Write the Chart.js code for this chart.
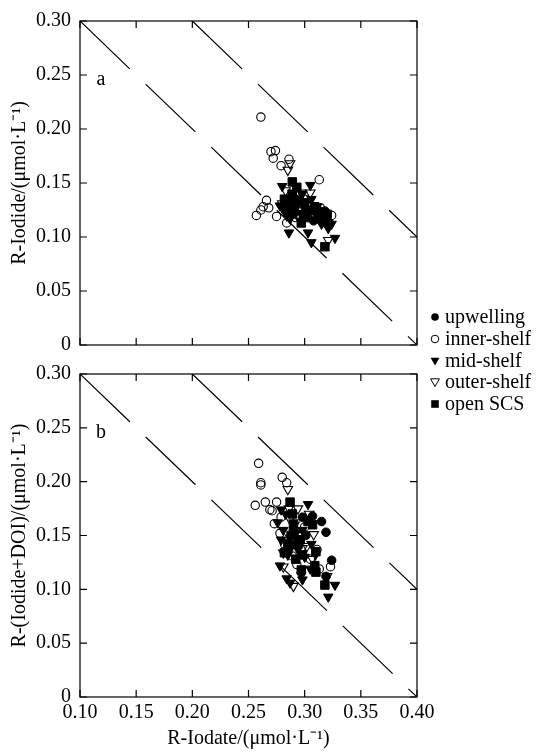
<!DOCTYPE html>
<html>
<head>
<meta charset="utf-8">
<script src="https://cdn.jsdelivr.net/npm/chart.js@4.4.0/dist/chart.umd.min.js"></script>
<style>
  body { margin: 0; background: #fff; }
  #wrap { position: relative; width: 538px; height: 755px; }
  canvas { position: absolute; left: 0; }
</style>
</head>
<body>
<div id="wrap">
  <canvas id="chartA" width="538" height="420" style="top:0px"></canvas>
  <canvas id="chartB" width="538" height="402" style="top:353px"></canvas>
</div>
<script>
// series names (legend order)
const seriesNames = ["upwelling", "inner-shelf", "mid-shelf", "outer-shelf", "open SCS"];

// axis ticks
const xTicks = [0.10, 0.40, 0.05];   // min, max, step
const yTicks = [0, 0.30, 0.05];

// dashed reference lines (x + y = 0.40 and x + y = 0.50)
const guideLow = [[0.10, 0.30], [0.40, 0.00]];
const guideHigh = [[0.20, 0.30], [0.40, 0.10]];

// panel a: R-Iodide vs R-Iodate
const upA = [[0.318,0.124],[0.322,0.113],[0.312,0.121],[0.300,0.128],[0.308,0.115],[0.290,0.131]];
const innerA = [[0.261,0.211],[0.270,0.179],[0.274,0.180],[0.272,0.173],[0.279,0.166],[0.286,0.172],
  [0.313,0.153],[0.257,0.120],[0.261,0.125],[0.263,0.128],[0.268,0.127],[0.266,0.134],[0.275,0.119],
  [0.284,0.113],[0.324,0.120],[0.314,0.127],[0.282,0.126],[0.292,0.118],[0.300,0.135],[0.309,0.121],[0.296,0.126]];
const midA = [[0.280,0.147],[0.305,0.148],[0.286,0.104],[0.303,0.104],[0.306,0.095],[0.327,0.099],
  [0.321,0.108],[0.324,0.112],[0.306,0.135],[0.278,0.129],[0.292,0.122],[0.313,0.118],[0.285,0.134],
  [0.296,0.115],[0.289,0.141],[0.300,0.122],[0.318,0.115],[0.282,0.124],[0.311,0.128],[0.294,0.131],
  [0.298,0.140],[0.287,0.117],[0.315,0.112],[0.302,0.133]];
const outerA = [[0.287,0.168],[0.285,0.162],[0.297,0.141],[0.305,0.141],[0.321,0.097],[0.300,0.129],
  [0.290,0.136],[0.284,0.120],[0.295,0.125],[0.280,0.131],[0.308,0.118],[0.283,0.143],[0.316,0.122]];
const scsA = [[0.289,0.151],[0.318,0.091],[0.297,0.113],[0.309,0.128],[0.282,0.135],[0.291,0.126],
  [0.314,0.117],[0.287,0.121],[0.295,0.134],[0.302,0.118],[0.320,0.121],[0.284,0.128],[0.293,0.146],
  [0.305,0.125],[0.299,0.120],[0.289,0.139],[0.311,0.124]];

// panel b: R-(Iodide+DOI) vs R-Iodate
const upB = [[0.315,0.163],[0.319,0.153],[0.324,0.127],[0.298,0.167],[0.307,0.168],[0.319,0.112],
  [0.292,0.142],[0.301,0.150],[0.286,0.138]];
const innerB = [[0.259,0.217],[0.261,0.199],[0.261,0.197],[0.280,0.204],[0.284,0.199],[0.256,0.178],
  [0.265,0.181],[0.275,0.181],[0.269,0.174],[0.271,0.173],[0.279,0.167],[0.273,0.161],[0.293,0.123],
  [0.311,0.137],[0.323,0.121],[0.313,0.119],[0.282,0.142],[0.300,0.158],[0.289,0.131],[0.278,0.152],[0.305,0.128]];
const midB = [[0.279,0.174],[0.303,0.179],[0.276,0.162],[0.298,0.155],[0.306,0.142],[0.279,0.146],
  [0.278,0.122],[0.284,0.110],[0.287,0.106],[0.297,0.113],[0.298,0.109],[0.321,0.093],[0.327,0.104],
  [0.305,0.119],[0.285,0.132],[0.283,0.170],[0.290,0.162],[0.294,0.137],[0.281,0.155],[0.300,0.130],
  [0.287,0.148],[0.310,0.133],[0.292,0.152]];
const outerB = [[0.285,0.193],[0.286,0.175],[0.294,0.175],[0.304,0.170],[0.308,0.151],[0.291,0.160],
  [0.297,0.150],[0.281,0.121],[0.290,0.103],[0.320,0.112],[0.307,0.128],[0.281,0.134],[0.298,0.138],
  [0.287,0.165],[0.302,0.140]];
const scsB = [[0.287,0.181],[0.290,0.158],[0.303,0.163],[0.307,0.160],[0.297,0.118],[0.309,0.122],
  [0.318,0.104],[0.310,0.116],[0.282,0.134],[0.294,0.142],[0.288,0.150],[0.298,0.132],[0.310,0.135],
  [0.285,0.142],[0.292,0.128],[0.289,0.170],[0.296,0.146]];

const FONT = '"Liberation Serif", "Times New Roman", serif';

function pts(arr) {
  return arr.map(([x, y]) => ({ x: x, y: y }));
}

function fmt(v) {
  return Math.abs(v) < 1e-9 ? "0" : v.toFixed(2);
}

// legend marker shapes
function marker(ctx, kind, cx, cy) {
  ctx.beginPath();
  if (kind === 0 || kind === 1) {
    ctx.arc(cx, cy, 3.8, 0, Math.PI * 2);
  } else if (kind === 2 || kind === 3) {
    ctx.moveTo(cx - 4.4, cy - 3.2);
    ctx.lineTo(cx + 4.4, cy - 3.2);
    ctx.lineTo(cx, cy + 4.6);
    ctx.closePath();
  } else {
    ctx.rect(cx - 3.8, cy - 3.8, 7.6, 7.6);
  }
  if (kind === 1 || kind === 3) {
    ctx.lineWidth = 1;
    ctx.stroke();
  } else {
    ctx.fill();
  }
}

// box, inward ticks, panel letter, legend
const frame = {
  id: "frame",
  afterDatasetsDraw(chart, args, opts) {
    const { ctx, chartArea: a, scales } = chart;
    const x = scales.x, y = scales.y;
    ctx.save();
    ctx.strokeStyle = "#000";
    ctx.fillStyle = "#000";
    ctx.lineWidth = 1.2;
    ctx.strokeRect(a.left, a.top, a.right - a.left, a.bottom - a.top);
    ctx.beginPath();
    x.ticks.forEach(t => {
      const px = x.getPixelForValue(t.value);
      ctx.moveTo(px, a.bottom); ctx.lineTo(px, a.bottom - 7);
      ctx.moveTo(px, a.top); ctx.lineTo(px, a.top + 7);
    });
    y.ticks.forEach(t => {
      const py = y.getPixelForValue(t.value);
      ctx.moveTo(a.left, py); ctx.lineTo(a.left + 7, py);
      ctx.moveTo(a.right, py); ctx.lineTo(a.right - 7, py);
    });
    ctx.stroke();

    ctx.font = "20px " + FONT;
    ctx.textAlign = "center";
    ctx.textBaseline = "middle";
    ctx.fillText(opts.letter, a.left + 21, a.top + 59);

    if (opts.legend) {
      const rows = [317, 339, 361, 382, 404];
      ctx.textAlign = "left";
      seriesNames.forEach((name, i) => {
        marker(ctx, i, 435, rows[i]);
        ctx.fillText(name, 445, rows[i] + 1);
      });
    }
    ctx.restore();
  }
};

function guide(arr) {
  return {
    data: pts(arr),
    showLine: true,
    pointRadius: 0,
    borderColor: "#000",
    borderWidth: 1.2,
    borderDash: [69, 22],
    fill: false
  };
}

function makeSets(up, inner, mid, outer, scs) {
  return [
    { label: seriesNames[4], data: pts(scs), pointStyle: "rect", pointRadius: 6,
      backgroundColor: "#000", borderColor: "#000", borderWidth: 1 },
    { label: seriesNames[2], data: pts(mid), pointStyle: "triangle", pointRotation: 180, pointRadius: 5.5,
      backgroundColor: "#000", borderColor: "#000", borderWidth: 1 },
    { label: seriesNames[0], data: pts(up), pointStyle: "circle", pointRadius: 4.3,
      backgroundColor: "#000", borderColor: "#000", borderWidth: 1 },
    { label: seriesNames[3], data: pts(outer), pointStyle: "triangle", pointRotation: 180, pointRadius: 5.5,
      backgroundColor: "rgba(0,0,0,0)", borderColor: "#000", borderWidth: 1.1 },
    { label: seriesNames[1], data: pts(inner), pointStyle: "circle", pointRadius: 4.2,
      backgroundColor: "rgba(0,0,0,0)", borderColor: "#000", borderWidth: 1.1 },
    guide(guideLow),
    guide(guideHigh)
  ];
}

function makeChart(id, sets, yTitle, showX, padTop, xHeight, letter, legend) {
  const tickFont = { family: FONT, size: 20 };
  return new Chart(document.getElementById(id), {
    type: "scatter",
    data: { datasets: sets },
    options: {
      responsive: false,
      animation: false,
      events: [],
      layout: { padding: { top: padTop, right: 121, left: 0, bottom: 0 } },
      plugins: {
        legend: { display: false },
        tooltip: { enabled: false },
        frame: { letter: letter, legend: legend }
      },
      scales: {
        x: {
          type: "linear",
          min: xTicks[0], max: xTicks[1],
          ticks: { display: showX, stepSize: xTicks[2], padding: 4, color: "#000", font: tickFont,
                   callback: fmt, maxRotation: 0, autoSkip: false },
          grid: { display: false, drawTicks: false },
          border: { display: false },
          title: { display: showX, text: "R-Iodate/(μmol·L⁻¹)", color: "#000", font: tickFont,
                   padding: { top: 0, bottom: 4 } },
          afterFit(s) { s.height = xHeight; }
        },
        y: {
          min: yTicks[0], max: yTicks[1],
          ticks: { stepSize: yTicks[2], padding: 9, color: "#000", font: tickFont, callback: fmt, autoSkip: false },
          grid: { display: false, drawTicks: false },
          border: { display: false },
          title: { display: true, text: yTitle, color: "#000", font: tickFont, padding: { top: 8, bottom: 0 } },
          afterFit(s) { s.width = 80; }
        }
      }
    },
    plugins: [frame]
  });
}

makeChart("chartA", makeSets(upA, innerA, midA, outerA, scsA), "R-Iodide/(μmol·L⁻¹)", false, 13, 75, "a", true);
makeChart("chartB", makeSets(upB, innerB, midB, outerB, scsB), "R-(Iodide+DOI)/(μmol·L⁻¹)", true, 12, 58, "b", false);
</script>
</body>
</html>
